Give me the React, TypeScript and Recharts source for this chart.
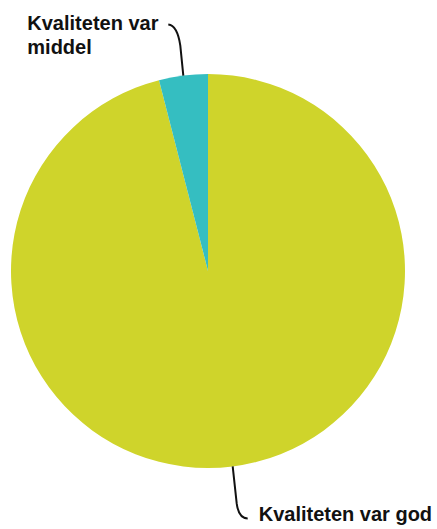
import { PieChart, Pie, Cell } from "recharts";

const categories = ["Kvaliteten var god", "Kvaliteten var middel"];
const shares = [96, 4];
const colors = ["#CFD42B", "#35BEC1"];

const data = categories.map((name, i) => ({ name, value: shares[i] }));

const RAD = Math.PI / 180;

function renderLabel(props: any) {
  const { cx, cy, midAngle, outerRadius, index } = props;
  const x0 = cx + outerRadius * Math.cos(-midAngle * RAD);
  const y0 = cy + outerRadius * Math.sin(-midAngle * RAD);
  const font = { fontFamily: "'Liberation Sans', Arial, sans-serif", fontWeight: 700, fontSize: 20, fill: "#111" };

  if (index === 1) {
    // middel: leader goes up, label sits top-left in two lines
    const path = `M ${x0} ${y0} L ${x0 - 3} ${y0 - 30} Q ${x0 - 6} ${y0 - 50} ${x0 - 15} ${y0 - 51}`;
    return (
      <g>
        <path d={path} stroke="#111" strokeWidth={2} fill="none" />
        <text x={x0 - 156} y={y0 - 46} {...font}>
          <tspan x={x0 - 156}>Kvaliteten var</tspan>
          <tspan x={x0 - 156} dy={24}>middel</tspan>
        </text>
      </g>
    );
  }
  const path = `M ${x0} ${y0} L ${x0 + 4} ${y0 + 37} Q ${x0 + 6} ${y0 + 52} ${x0 + 15} ${y0 + 52}`;
  return (
    <g>
      <path d={path} stroke="#111" strokeWidth={2} fill="none" />
      <text x={x0 + 26} y={y0 + 55} {...font}>
        {props.name}
      </text>
    </g>
  );
}

export default function App() {
  return (
    <div style={{ position: "absolute", left: 0, top: 0, width: 437, height: 529 }}>
      <PieChart width={437} height={529} margin={{ top: 0, right: 0, bottom: 0, left: 0 }}>
        <Pie
          data={data}
          dataKey="value"
          nameKey="name"
          cx={208}
          cy={271}
          outerRadius={197}
          startAngle={90}
          endAngle={-270}
          stroke="none"
          label={renderLabel}
          labelLine={false}
          isAnimationActive={false}
        >
          {data.map((d, i) => (
            <Cell key={d.name} fill={colors[i]} />
          ))}
        </Pie>
      </PieChart>
    </div>
  );
}
